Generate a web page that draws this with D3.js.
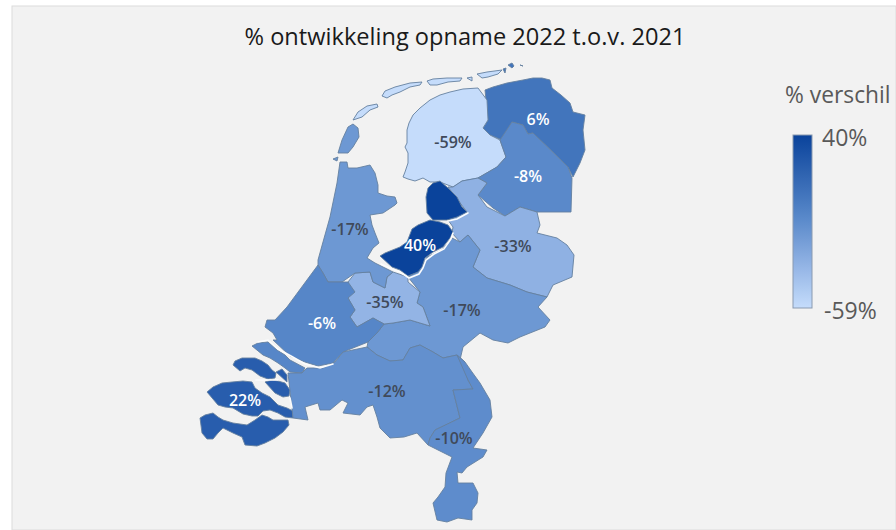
<!DOCTYPE html>
<html lang="nl">
<head>
<meta charset="utf-8">
<title>% ontwikkeling opname</title>
<script src="https://cdn.jsdelivr.net/npm/d3@7"></script>
<style>
html,body{margin:0;padding:0;background:#fff;}
svg{display:block;}
text{font-family:"Open Sans","Noto Sans",sans-serif;}
</style>
</head>
<body>
<svg id="kaart" width="896" height="530"></svg>
<script>
const titleText = "% ontwikkeling opname 2022 t.o.v. 2021";
const legendTitle = "% verschil";
const domainMin = -59;
const domainMax = 40;

const provinces = ["Groningen","Friesland","Drenthe","Overijssel","Gelderland","Utrecht","Noord-Holland","Zuid-Holland","Flevoland","Zeeland","Noord-Brabant","Limburg"];
const changePct = [6,-59,-8,-33,-17,-35,-17,-6,40,22,-12,-10];

// Simplified province outlines on the map's own planar grid.
const groningen = [
  [[485,90],[493,87],[507,83],[523,80],[533,78],[542,78],[550,80],[552,88],[561,95],[570,103],[573,112],[585,115],[583,130],[585,150],[580,163],[573,177],[568,167],[533,133],[528,134],[523,125],[512,122],[502,140],[490,135],[483,128],[488,120],[487,100]],
  [[503,69],[506,68],[505,73],[503,73]],
  [[508,65],[512,63],[514,66],[512,68],[509,68]],
  [[520,65],[523,66],[522,68]]
];
const friesland = [
  [[478,88],[463,89],[450,92],[440,95],[430,100],[420,108],[413,115],[409,123],[407,130],[407,143],[405,147],[408,153],[408,163],[405,172],[403,177],[408,179],[415,181],[423,178],[430,182],[440,182],[453,187],[462,181],[478,178],[497,167],[506,157],[500,140],[490,135],[483,128],[488,120],[487,100],[480,98]],
  [[353,120],[358,112],[367,106],[377,104],[378,107],[370,110],[362,117],[355,122]],
  [[382,96],[385,91],[395,87],[410,83],[422,82],[420,85],[410,87],[400,92],[392,95],[387,98],[383,99]],
  [[427,81],[433,79],[447,78],[462,78],[460,81],[448,82],[437,85],[430,85],[427,84]],
  [[467,78],[472,77],[472,81],[467,81]],
  [[477,74],[487,72],[502,70],[498,74],[488,77],[482,78],[477,82]]
];
const drenthe = [
  [[512,122],[523,125],[528,134],[533,133],[568,167],[572,178],[571,212],[537,212],[520,207],[505,216],[493,208],[478,195],[487,183],[478,178],[497,167],[506,157],[500,140],[502,140]]
];
const overijssel = [
  [[448,187],[453,187],[462,181],[478,178],[487,183],[478,195],[487,207],[505,216],[520,207],[537,212],[540,225],[537,233],[557,238],[567,245],[574,255],[572,277],[553,285],[547,297],[527,292],[510,285],[487,278],[473,267],[480,250],[468,235],[460,242],[452,233],[453,227],[448,220],[467,212],[457,202]]
];
const flevoland = [
  [[426,197],[428,188],[433,183],[440,181],[448,188],[457,197],[462,207],[467,212],[457,217],[447,220],[433,220],[427,213],[426,207]],
  [[380,256],[385,253],[400,247],[407,242],[412,229],[418,225],[430,220],[440,222],[448,225],[453,232],[450,238],[443,247],[433,252],[425,258],[422,267],[418,272],[408,276],[400,270],[392,267],[382,263]]
];
const gelderland = [
  [[408,277],[420,270],[427,257],[442,250],[452,238],[460,242],[468,235],[480,250],[473,267],[487,278],[510,285],[527,292],[547,297],[538,307],[550,320],[545,327],[520,337],[508,343],[493,340],[480,333],[463,347],[460,360],[465,362],[457,355],[443,358],[433,352],[420,345],[410,348],[403,360],[390,361],[377,355],[367,347],[368,342],[377,333],[384,324],[393,323],[410,320],[430,326],[423,307],[417,303],[420,292],[408,282]]
];
const utrecht = [
  [[348,282],[355,273],[370,272],[373,282],[385,288],[387,277],[393,272],[408,277],[408,282],[420,292],[417,303],[423,307],[430,326],[410,320],[393,323],[384,324],[373,318],[357,327],[350,317],[355,310],[348,298],[355,292]]
];
const noordHolland = [
  [[340,162],[347,162],[348,168],[357,168],[370,165],[375,173],[378,185],[378,193],[387,196],[395,197],[397,203],[395,205],[383,213],[370,215],[372,225],[375,233],[379,243],[373,248],[367,258],[375,263],[393,272],[387,277],[385,288],[373,282],[370,272],[355,273],[342,282],[328,282],[323,273],[318,265],[318,260],[323,242],[330,217],[337,183],[339,170]],
  [[338,153],[342,140],[348,127],[353,124],[358,128],[359,137],[353,147],[348,153],[342,157]],
  [[333,159],[338,157],[337,161],[333,161]]
];
const zuidHolland = [
  [[318,265],[323,273],[328,282],[342,282],[348,282],[355,292],[348,298],[355,310],[350,317],[357,327],[373,318],[384,324],[377,333],[368,342],[343,352],[333,363],[318,366],[305,362],[290,356],[273,340],[277,340],[273,333],[265,327],[267,320],[275,320],[287,307],[303,290]],
  [[252,346],[258,343],[268,342],[277,350],[285,355],[290,360],[305,368],[302,373],[290,372],[285,368],[278,363],[270,358],[263,355],[255,353]]
];
const zeeland = [
  [[233,365],[235,361],[242,358],[255,358],[262,361],[268,365],[272,370],[276,373],[275,378],[268,379],[260,376],[252,370],[245,368],[240,371],[235,371]],
  [[276,372],[282,369],[287,375],[287,382],[277,378]],
  [[265,382],[272,380],[278,381],[285,383],[290,390],[289,396],[283,397],[275,393],[268,390]],
  [[207,392],[213,387],[222,383],[232,382],[243,381],[252,382],[255,388],[262,393],[270,397],[278,405],[287,408],[293,411],[293,418],[285,417],[278,413],[270,410],[263,411],[258,416],[252,416],[243,414],[233,408],[225,407],[218,405],[212,398]],
  [[200,418],[205,415],[213,413],[218,417],[223,420],[233,423],[247,425],[255,420],[262,415],[268,417],[273,420],[288,420],[289,425],[283,432],[275,438],[265,443],[257,446],[245,445],[242,437],[233,433],[223,428],[218,433],[213,439],[207,439],[202,433],[199,427]]
];
const noordBrabant = [
  [[288,373],[302,373],[307,368],[323,368],[335,362],[343,352],[367,347],[377,355],[390,361],[403,360],[410,348],[420,345],[433,352],[443,358],[457,355],[465,368],[468,380],[473,389],[453,390],[460,418],[435,430],[430,438],[428,445],[417,433],[404,437],[390,438],[380,428],[377,417],[373,405],[367,407],[360,415],[343,413],[348,403],[342,400],[330,410],[320,410],[318,403],[305,407],[308,420],[293,418],[288,383]]
];
const limburg = [
  [[457,355],[465,362],[472,372],[480,383],[490,400],[492,417],[483,433],[473,448],[487,450],[483,457],[467,467],[462,473],[457,472],[458,483],[473,483],[478,493],[477,503],[472,510],[472,520],[458,518],[447,522],[437,520],[433,503],[438,497],[445,487],[446,473],[452,457],[428,445],[430,438],[435,430],[460,418],[453,390],[473,389],[468,380],[465,368]]
];
const outlines = [groningen,friesland,drenthe,overijssel,gelderland,utrecht,noordHolland,zuidHolland,flevoland,zeeland,noordBrabant,limburg];

// Pale water courses that run along the polders and the delta.
const waterways = [
  [[453,233],[451,239],[444,249],[434,254],[426,260],[423,268],[419,274],[409,278],[400,272],[392,269],[381,264]],
  [[448,221],[457,219],[468,213]],
  [[258,342],[268,340],[278,349],[291,356],[305,364],[320,368],[333,364]],
  [[278,380],[266,380],[256,380]],
  [[290,398],[292,408]]
];

// Label anchors on the same grid, in province order.
const labelAnchors = [[538,119],[453,142],[528,176],[513,246],[462,310],[385,302],[350,229],[322,323],[420,245],[245,400],[387,391],[454,438]];

const colorScale = d3.scaleLinear()
  .domain([domainMin, -33, -6, domainMax])
  .range(["#c5dcfb", "#8fb1e3", "#5686c8", "#0a439b"])
  .interpolate(d3.interpolateRgb);

const percentLabel = v => String(v) + "%";

const features = provinces.map((name, i) => ({
  type: "Feature",
  properties: {name, value: changePct[i]},
  geometry: {type: "MultiPolygon", coordinates: outlines[i].map(ring => [ring])}
}));

const svg = d3.select("#kaart");

svg.append("rect")
  .attr("x", 12).attr("y", 6).attr("width", 884).attr("height", 524)
  .attr("fill", "#f2f2f2").attr("stroke", "#dcdcdc");

svg.append("text")
  .attr("x", 465).attr("y", 45)
  .attr("text-anchor", "middle")
  .attr("font-size", 23.6).attr("fill", "#1a1a1a")
  .text(titleText);

const projection = d3.geoIdentity();
const path = d3.geoPath(projection);

svg.append("g").selectAll("path")
  .data(features)
  .join("path")
  .attr("d", path)
  .attr("fill", d => colorScale(d.properties.value))
  .attr("stroke", "#64809f")
  .attr("stroke-width", 0.9)
  .attr("stroke-linejoin", "round");

svg.append("g").selectAll("path")
  .data(waterways)
  .join("path")
  .attr("d", d => path({type: "LineString", coordinates: d}))
  .attr("fill", "none")
  .attr("stroke", "#fbfcfd")
  .attr("stroke-width", 1.6)
  .attr("stroke-linecap", "round");

svg.append("g").selectAll("text")
  .data(features)
  .join("text")
  .attr("x", (d, i) => projection(labelAnchors[i])[0])
  .attr("y", (d, i) => projection(labelAnchors[i])[1])
  .attr("dy", "0.36em")
  .attr("text-anchor", "middle")
  .attr("font-size", 16)
  .attr("font-weight", 600)
  .attr("fill", d => (d.properties.value >= -8 ? "#ffffff" : "#404a5a"))
  .text(d => percentLabel(d.properties.value));

// Colour legend
const legendY = d3.scaleLinear().domain([domainMax, domainMin]).range([135, 308]);

const gradient = svg.append("defs").append("linearGradient")
  .attr("id", "legendRamp")
  .attr("x1", 0).attr("x2", 0).attr("y1", 0).attr("y2", 1);
gradient.selectAll("stop")
  .data(d3.range(0, 11).map(k => domainMax + (domainMin - domainMax) * k / 10))
  .join("stop")
  .attr("offset", d => (legendY(d) - legendY(domainMax)) / (legendY(domainMin) - legendY(domainMax)))
  .attr("stop-color", d => colorScale(d));

svg.append("rect")
  .attr("x", 793).attr("y", legendY(domainMax))
  .attr("width", 19).attr("height", legendY(domainMin) - legendY(domainMax))
  .attr("fill", "url(#legendRamp)")
  .attr("stroke", "#8a9ab0").attr("stroke-width", 1);

svg.append("text")
  .attr("x", 785).attr("y", 103)
  .attr("font-size", 22.8).attr("fill", "#595959")
  .text(legendTitle);

svg.selectAll(".legend-tick")
  .data([domainMax, domainMin])
  .join("text")
  .attr("class", "legend-tick")
  .attr("x", d => d === domainMax ? 822 : 824)
  .attr("y", d => legendY(d) + 3)
  .attr("dy", "0.36em")
  .attr("font-size", 23).attr("fill", "#595959")
  .text(d => percentLabel(d));
</script>
</body>
</html>
